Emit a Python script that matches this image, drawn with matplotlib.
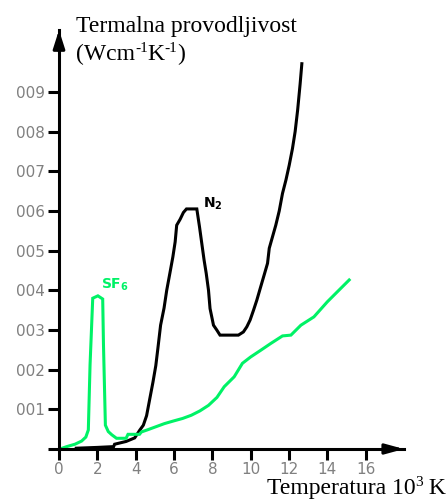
import matplotlib
matplotlib.use("Agg")
import matplotlib.pyplot as plt

# temperature in 10^3 K, conductivity in W/(cm K)
n2_T = [0.9, 2.0, 2.85, 2.9, 3.5, 3.95, 4.22, 4.4, 4.57, 4.75, 4.9, 5.05, 5.16,
        5.3, 5.48, 5.62, 5.8, 5.94, 6.06, 6.14, 6.32, 6.49, 6.65, 6.9, 7.19,
        7.33, 7.45, 7.57, 7.68, 7.8, 7.88, 7.97, 8.06, 8.23, 8.4, 8.8, 9.36,
        9.62, 9.8, 9.97, 10.15, 10.32, 10.5, 10.7, 10.88, 10.97, 11.14, 11.31,
        11.49, 11.66, 11.84, 12.01, 12.18, 12.32, 12.45, 12.58, 12.67]
n2_k = [0.0002, 0.0004, 0.0006, 0.0012, 0.0019, 0.0028, 0.0048, 0.0060,
        0.0084, 0.0130, 0.0168, 0.0210, 0.0254, 0.0312, 0.0355, 0.0400, 0.0447,
        0.0484, 0.0522, 0.0564, 0.0579, 0.0596, 0.0605, 0.0605, 0.0605, 0.0560,
        0.0518, 0.0476, 0.0443, 0.0400, 0.0354, 0.0333, 0.0312, 0.0300, 0.0287,
        0.0287, 0.0287, 0.0295, 0.0308, 0.0325, 0.0350, 0.0375, 0.0405, 0.0438,
        0.0468, 0.0506, 0.0535, 0.0564, 0.0600, 0.0644, 0.0678, 0.0715, 0.0757,
        0.0800, 0.0854, 0.0920, 0.0971]

sf6_T = [0.05, 0.4, 0.83, 1.18, 1.4, 1.53, 1.62, 1.76, 2.03, 2.28, 2.32, 2.42,
         2.57, 2.75, 3.0, 3.5, 3.6, 4.2, 4.3, 4.6, 5.05, 5.5, 6.0, 6.45, 6.9,
         7.35, 7.8, 8.24, 8.62, 9.14, 9.57, 10.0, 10.53, 11.05, 11.66, 12.1,
         12.62, 13.3, 14.0, 14.6, 15.14]
sf6_k = [0.0, 0.0006, 0.0012, 0.0020, 0.0030, 0.0048, 0.0212, 0.0380, 0.0386,
         0.0378, 0.0264, 0.0060, 0.0044, 0.0036, 0.0027, 0.0027, 0.0037, 0.0037,
         0.0043, 0.0048, 0.0056, 0.0064, 0.0071, 0.0077, 0.0085, 0.0096, 0.0110,
         0.0130, 0.0157, 0.0182, 0.0216, 0.0232, 0.0249, 0.0266, 0.0285, 0.0287,
         0.0312, 0.0333, 0.0371, 0.0400, 0.0426]

xticks = [0, 2, 4, 6, 8, 10, 12, 14, 16]
yticks = [0.0, 0.01, 0.02, 0.03, 0.04, 0.05, 0.06, 0.07, 0.08, 0.09]
ylabels = ['', '001', '002', '003', '004', '005', '006', '007', '008', '009']

green = '#00f266'
grey = '#808080'
serif = 'Liberation Serif'

fig = plt.figure(figsize=(4.48, 4.99), dpi=100)
ax = fig.add_axes([0.1317, 0.1002, 0.7701, 0.8397])

ax.plot(n2_T, n2_k, color='black', lw=2.2, solid_joinstyle='miter')
ax.plot(sf6_T, sf6_k, color=green, lw=2.2, solid_joinstyle='miter')

ax.set_xlim(0, 18)
ax.set_ylim(0, 0.1056)
for s in ['top', 'right']:
    ax.spines[s].set_visible(False)
for s in ['left', 'bottom']:
    ax.spines[s].set_linewidth(2.2)

ax.set_xticks(xticks)
ax.set_xticklabels([str(t) for t in xticks])
ax.set_yticks(yticks)
ax.set_yticklabels(ylabels)
ax.tick_params(length=8, width=2.2, color='black', labelcolor=grey,
               labelsize=11)
ax.tick_params(axis='x', pad=1)
ax.tick_params(axis='y', pad=2)

# axis arrows
ax.annotate('', xy=(0, 1.0), xycoords='axes fraction', xytext=(0, 0.95),
            arrowprops=dict(arrowstyle='-|>,head_length=1.1,head_width=0.35',
                            color='black', lw=2.2, shrinkA=0, shrinkB=0))
ax.annotate('', xy=(1.0, 0), xycoords='axes fraction', xytext=(0.95, 0),
            arrowprops=dict(arrowstyle='-|>,head_length=1.1,head_width=0.3',
                            color='black', lw=2.2, shrinkA=0, shrinkB=0))

ax.text(2.2, 0.0403, r'$\mathbf{SF}_\mathbf{6}$', color=green, fontsize=10)
ax.text(7.5, 0.0608, r'$\mathbf{N}_\mathbf{2}$', color='black', fontsize=10)


def sup_text(x, y, parts, ha='left'):
    # parts: list of (string, is_superscript); drawn left to right in pixels
    r = fig.canvas.get_renderer()
    pieces = []
    total = 0
    for s, sup in parts:
        t = fig.text(0, 0, s, family=serif, fontsize=11 if sup else 17,
                     va='baseline')
        w = t.get_window_extent(r).width
        pieces.append((t, sup, w))
        total += w
    px = x - total if ha == 'right' else x
    for t, sup, w in pieces:
        t.set_position((px / 448, 1 - (y - (8 if sup else 0)) / 499))
        px += w


fig.text(76 / 448, 1 - 32 / 499, 'Termalna provodljivost',
         family=serif, fontsize=17, va='baseline')
sup_text(76, 60, [('(Wcm', False), ('-1', True), ('K', False), ('-1', True),
                  (')', False)])
sup_text(446, 494, [('Temperatura 10', False), ('3', True), (' K', False)],
         ha='right')

fig.savefig('out.png', dpi=100)
